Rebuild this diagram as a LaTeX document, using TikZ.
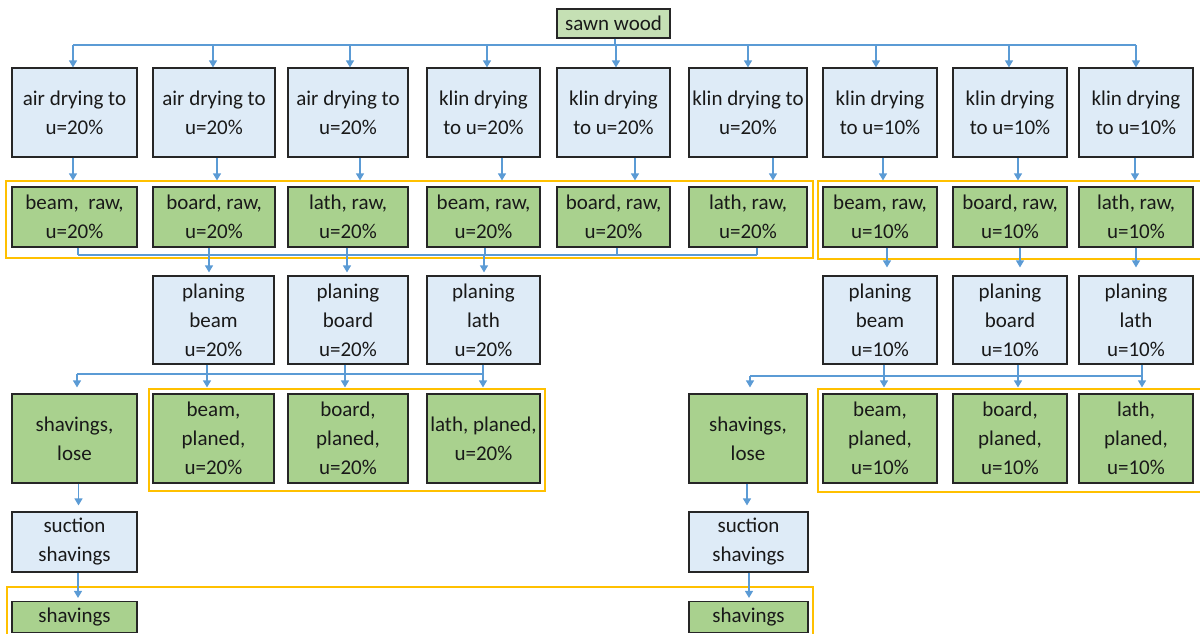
\documentclass[tikz,border=0pt]{standalone}
\usepackage{fontspec}
\setmainfont{Carlito}
\usetikzlibrary{arrows.meta}
\definecolor{lblue}{HTML}{DEEBF7}
\definecolor{pgreen}{HTML}{A9D18E}
\definecolor{sgreen}{HTML}{C5E0B4}
\definecolor{bord}{HTML}{262626}
\definecolor{grporange}{HTML}{FFC000}
\definecolor{cblue}{HTML}{5B9BD5}
\tikzset{
  boxbase/.style={draw=bord, line width=1.2pt, align=center, inner sep=0pt,
    font=\fontsize{21}{29}\selectfont, text=black!90},
  lb/.style={boxbase, fill=lblue},
  gr/.style={boxbase, fill=pgreen},
  sw/.style={boxbase, fill=sgreen},
  grp/.style={draw=grporange, line width=2.2pt},
  conn/.style={draw=cblue, line width=1.2pt},
  arr/.style={conn, -{Triangle[width=8pt,length=7pt]}},
}
\begin{document}
\begin{tikzpicture}[x=1pt,y=-1pt]
\fill[white] (0,0) rectangle (1200,633);
\useasboundingbox (0,0) rectangle (1200,633);

% top node
\node[sw, minimum width=113, minimum height=29] (sw) at (613.5,23.5) {sawn wood};

% row 1
\node[lb, minimum width=125, minimum height=89] (a1) at (74.5,112.5) {air drying to\\u=20\%};
\node[lb, minimum width=122, minimum height=89] (a2) at (214,112.5) {air drying to\\u=20\%};
\node[lb, minimum width=120, minimum height=89] (a3) at (348,112.5) {air drying to\\u=20\%};
\node[lb, minimum width=113, minimum height=89] (a4) at (483.5,112.5) {klin drying\\to u=20\%};
\node[lb, minimum width=113, minimum height=89] (a5) at (613.5,112.5) {klin drying\\to u=20\%};
\node[lb, minimum width=118, minimum height=89] (a6) at (748,112.5) {klin drying to\\u=20\%};
\node[lb, minimum width=114, minimum height=89] (a7) at (880,112.5) {klin drying\\to u=10\%};
\node[lb, minimum width=114, minimum height=89] (a8) at (1010,112.5) {klin drying\\to u=10\%};
\node[lb, minimum width=114, minimum height=89] (a9) at (1136,112.5) {klin drying\\to u=10\%};

% row 2
\node[gr, minimum width=125, minimum height=60] (r1) at (74.5,217) {beam,~ raw,\\u=20\%};
\node[gr, minimum width=122, minimum height=60] (r2) at (214,217) {board, raw,\\u=20\%};
\node[gr, minimum width=120, minimum height=60] (r3) at (348,217) {lath, raw,\\u=20\%};
\node[gr, minimum width=113, minimum height=60] (r4) at (483.5,217) {beam, raw,\\u=20\%};
\node[gr, minimum width=113, minimum height=60] (r5) at (613.5,217) {board, raw,\\u=20\%};
\node[gr, minimum width=118, minimum height=60] (r6) at (748,217) {lath, raw,\\u=20\%};
\node[gr, minimum width=114, minimum height=60] (r7) at (880,217) {beam, raw,\\u=10\%};
\node[gr, minimum width=114, minimum height=60] (r8) at (1010,217) {board, raw,\\u=10\%};
\node[gr, minimum width=114, minimum height=60] (r9) at (1136,217) {lath, raw,\\u=10\%};

% row 3 planing
\node[lb, minimum width=121, minimum height=88] (p1) at (213.5,320) {planing\\beam\\u=20\%};
\node[lb, minimum width=120, minimum height=88] (p2) at (348,320) {planing\\board\\u=20\%};
\node[lb, minimum width=113, minimum height=88] (p3) at (483.5,320) {planing\\lath\\u=20\%};
\node[lb, minimum width=114, minimum height=88] (p4) at (880,320) {planing\\beam\\u=10\%};
\node[lb, minimum width=114, minimum height=88] (p5) at (1010,320) {planing\\board\\u=10\%};
\node[lb, minimum width=114, minimum height=88] (p6) at (1136,320) {planing\\lath\\u=10\%};

% row 4 planed + shavings
\node[gr, minimum width=125, minimum height=89] (s1) at (74.5,438.5) {shavings,\\lose};
\node[gr, minimum width=121, minimum height=89] (q1) at (213.5,438.5) {beam,\\planed,\\u=20\%};
\node[gr, minimum width=120, minimum height=89] (q2) at (348,438.5) {board,\\planed,\\u=20\%};
\node[gr, minimum width=113, minimum height=89] (q3) at (483.5,438.5) {lath, planed,\\u=20\%};
\node[gr, minimum width=118, minimum height=89] (s2) at (748,438.5) {shavings,\\lose};
\node[gr, minimum width=114, minimum height=89] (q4) at (880,438.5) {beam,\\planed,\\u=10\%};
\node[gr, minimum width=114, minimum height=89] (q5) at (1010,438.5) {board,\\planed,\\u=10\%};
\node[gr, minimum width=114, minimum height=89] (q6) at (1136,438.5) {lath,\\planed,\\u=10\%};

% suction
\node[lb, minimum width=125, minimum height=60] (u1) at (74.5,542) {suction\\shavings};
\node[lb, minimum width=119, minimum height=60] (u2) at (748.5,542) {suction\\shavings};

% shavings bottom
\node[gr, minimum width=125, minimum height=31] (v1) at (74.5,617) {shavings};
\node[gr, minimum width=119, minimum height=31] (v2) at (748.5,617) {shavings};

% orange groups
\draw[grp] (6,181) rectangle (813,258);
\draw[grp] (818,181) rectangle (1203,259);
\draw[grp] (149,389) rectangle (545,491);
\draw[grp] (818,389) rectangle (1203,492);
\draw[grp] (7,587) rectangle (813,645);

% top bus
\coordinate (busT) at (615,45);
\draw[conn] ([xshift=1.5pt]sw.south) -- (busT);
\draw[conn] ([xshift=-1.5pt]a1.north |- busT) -- (a9.north |- busT);
\draw[arr] ([xshift=-1.5pt]a1.north |- busT) -- ([xshift=-1.5pt]a1.north);
\draw[arr] ([xshift=-1pt]a2.north |- busT) -- ([xshift=-1pt]a2.north);
\draw[arr] ([xshift=2pt]a3.north |- busT) -- ([xshift=2pt]a3.north);
\draw[arr] ([xshift=3.5pt]a4.north |- busT) -- ([xshift=3.5pt]a4.north);
\draw[arr] ([xshift=2.5pt]a5.north |- busT) -- ([xshift=2.5pt]a5.north);
\draw[arr] (a6.north |- busT) -- (a6.north);
\draw[arr] ([xshift=-4pt]a7.north |- busT) -- ([xshift=-4pt]a7.north);
\draw[arr] ([xshift=-1pt]a8.north |- busT) -- ([xshift=-1pt]a8.north);
\draw[arr] (a9.north |- busT) -- (a9.north);

% row1 -> row2
\draw[arr] ([xshift=-1.5pt]a1.south) -- ([xshift=-1.5pt,yshift=6pt]r1.north);
\draw[arr] ([xshift=3pt]a2.south) -- ([xshift=3pt,yshift=6pt]r2.north);
\draw[arr] ([xshift=12pt]a3.south) -- ([xshift=12pt,yshift=6pt]r3.north);
\draw[arr] ([xshift=18.5pt]a4.south) -- ([xshift=18.5pt,yshift=6pt]r4.north);
\draw[arr] ([xshift=21.5pt]a5.south) -- ([xshift=21.5pt,yshift=6pt]r5.north);
\draw[arr] ([xshift=25pt]a6.south) -- ([xshift=25pt,yshift=6pt]r6.north);
\draw[arr] ([xshift=3pt]a7.south) -- ([xshift=3pt,yshift=6pt]r7.north);
\draw[arr] ([xshift=8pt]a8.south) -- ([xshift=8pt,yshift=6pt]r8.north);
\draw[arr] ([xshift=-1pt]a9.south) -- ([xshift=-1pt,yshift=6pt]r9.north);

% row2 -> planing (20%)
\coordinate (busA) at (400,255);
\draw[conn] ([xshift=3.5pt]r1.south) -- ([xshift=3.5pt]r1.south |- busA);
\draw[conn] ([xshift=-5pt]r2.south) -- ([xshift=-5pt]r2.south |- busA);
\draw[conn] ([xshift=-1pt]r3.south) -- ([xshift=-1pt]r3.south |- busA);
\draw[conn] ([xshift=1.5pt]r4.south) -- ([xshift=1.5pt]r4.south |- busA);
\draw[conn] ([xshift=3.5pt]r5.south) -- ([xshift=3.5pt]r5.south |- busA);
\draw[conn] ([xshift=9pt]r6.south) -- ([xshift=9pt]r6.south |- busA);
\draw[conn] ([xshift=3.5pt]r1.south |- busA) -- ([xshift=9pt]r6.south |- busA);
\draw[arr] ([xshift=-4.5pt]p1.north |- busA) -- ([xshift=-4.5pt,yshift=3pt]p1.north);
\draw[arr] ([xshift=-1pt]p2.north |- busA) -- ([xshift=-1pt,yshift=3pt]p2.north);
\draw[arr] ([xshift=0.5pt]p3.north |- busA) -- ([xshift=0.5pt,yshift=3pt]p3.north);

% row2 -> planing (10%)
\draw[arr] ([xshift=7pt]r7.south) -- ([xshift=7pt,yshift=8pt]p4.north);
\draw[arr] ([xshift=10pt]r8.south) -- ([xshift=10pt,yshift=8pt]p5.north);
\draw[arr] (r9.south) -- ([yshift=8pt]p6.north);

% planing -> planed (20%)
\coordinate (busB) at (300,374);
\draw[conn] ([xshift=-6.5pt]p1.south) -- ([xshift=-6.5pt]p1.south |- busB);
\draw[conn] ([xshift=-3pt]p2.south) -- ([xshift=-3pt]p2.south |- busB);
\draw[conn] ([xshift=-0.5pt]p3.south) -- ([xshift=-0.5pt]p3.south |- busB);
\draw[conn] ([xshift=2.5pt]s1.north |- busB) -- ([xshift=-0.5pt]p3.south |- busB);
\draw[arr] ([xshift=2.5pt]s1.north |- busB) -- ([xshift=2.5pt,yshift=6pt]s1.north);
\draw[arr] ([xshift=-6.5pt]q1.north |- busB) -- ([xshift=-6.5pt,yshift=6pt]q1.north);
\draw[arr] ([xshift=-3pt]q2.north |- busB) -- ([xshift=-3pt,yshift=6pt]q2.north);
\draw[arr] ([xshift=-0.5pt]q3.north |- busB) -- ([xshift=-0.5pt,yshift=6pt]q3.north);

% planing -> planed (10%)
\coordinate (busC) at (950,376);
\draw[conn] ([xshift=4pt]p4.south) -- ([xshift=4pt]p4.south |- busC);
\draw[conn] ([xshift=8pt]p5.south) -- ([xshift=8pt]p5.south |- busC);
\draw[conn] ([xshift=6pt]p6.south) -- ([xshift=6pt]p6.south |- busC);
\draw[conn] ([xshift=2pt]s2.north |- busC) -- ([xshift=6pt]p6.south |- busC);
\draw[arr] ([xshift=2pt]s2.north |- busC) -- ([xshift=2pt,yshift=6pt]s2.north);
\draw[arr] ([xshift=4pt]q4.north |- busC) -- ([xshift=4pt,yshift=6pt]q4.north);
\draw[arr] ([xshift=8pt]q5.north |- busC) -- ([xshift=8pt,yshift=6pt]q5.north);
\draw[arr] ([xshift=6pt]q6.north |- busC) -- ([xshift=6pt,yshift=6pt]q6.north);

% shavings chain
\draw[arr] ([xshift=4pt]s1.south) -- ([xshift=4pt,yshift=6pt]u1.north);
\draw[arr] ([xshift=-1pt]s2.south) -- ([xshift=-1.5pt,yshift=6pt]u2.north);
\draw[arr] ([xshift=3.5pt]u1.south) -- ([xshift=3.5pt,yshift=3pt]v1.north);
\draw[arr] ([xshift=0.5pt]u2.south) -- ([xshift=0.5pt,yshift=3pt]v2.north);
\end{tikzpicture}
\end{document}
